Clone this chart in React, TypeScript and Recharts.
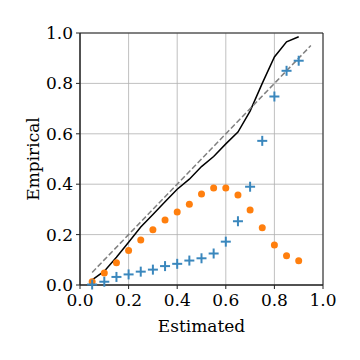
import {
  ComposedChart,
  Line,
  Scatter,
  XAxis,
  YAxis,
  CartesianGrid,
  ReferenceArea,
} from "recharts";

// estimated bin centres
const estimated = [
  0.05, 0.1, 0.15, 0.2, 0.25, 0.3, 0.35, 0.4, 0.45, 0.5, 0.55, 0.6, 0.65, 0.7,
  0.75, 0.8, 0.85, 0.9,
];

const blackLine = [
  0.02, 0.055, 0.11, 0.17, 0.23, 0.28, 0.33, 0.38, 0.42, 0.47, 0.51, 0.56,
  0.607, 0.69, 0.8, 0.905, 0.965, 0.985,
];

const orangeDots = [
  0.013, 0.048, 0.088, 0.137, 0.179, 0.219, 0.258, 0.29, 0.32, 0.361, 0.385,
  0.385, 0.357, 0.298, 0.227, 0.159, 0.116, 0.096,
];

const blueCrosses = [
  0.002, 0.013, 0.032, 0.042, 0.053, 0.061, 0.075, 0.084, 0.097, 0.106, 0.125,
  0.172, 0.253, 0.39, 0.572, 0.748, 0.85, 0.89,
];

const diagonal = [0.05, 0.95];
const ticks = [0, 0.2, 0.4, 0.6, 0.8, 1];

const FONT = "'DejaVu Serif', serif";

const toPoints = (ys: number[]) => ys.map((y, i) => ({ x: estimated[i], y }));

const blackData = toPoints(blackLine);
const orangeData = toPoints(orangeDots);
const blueData = toPoints(blueCrosses);
const diagData = diagonal.map((v) => ({ x: v, y: v }));

const Dot = (props: any) => (
  <circle cx={props.cx} cy={props.cy} r={3.5} fill="#ff7f0e" />
);

const Cross = (props: any) => {
  const { cx, cy } = props;
  return (
    <g stroke="#3a87bd" strokeWidth={2}>
      <line x1={cx - 5} y1={cy} x2={cx + 5} y2={cy} />
      <line x1={cx} y1={cy - 5} x2={cx} y2={cy + 5} />
    </g>
  );
};

const tickStyle = { fill: "#000", fontSize: 17, fontFamily: FONT };
const fmt = (v: number) => v.toFixed(1);

export default function App() {
  return (
    <div style={{ position: "absolute", left: 0, top: 0, background: "#fff" }}>
      <ComposedChart
        width={360}
        height={360}
        margin={{ top: 33, right: 37, bottom: 0, left: 0 }}
      >
        <CartesianGrid stroke="#b0b0b0" strokeWidth={0.8} />
        <XAxis
          dataKey="x"
          type="number"
          domain={[0, 1]}
          ticks={ticks}
          tickFormatter={fmt}
          height={75}
          tick={tickStyle}
          tickSize={4}
          tickMargin={5}
          axisLine={{ stroke: "#222" }}
          tickLine={{ stroke: "#222" }}
          label={{
            value: "Estimated",
            position: "insideBottom",
            offset: 28,
            fill: "#000",
            fontSize: 17,
            fontFamily: FONT,
          }}
        />
        <YAxis
          dataKey="y"
          type="number"
          domain={[0, 1]}
          ticks={ticks}
          tickFormatter={fmt}
          width={80}
          tick={tickStyle}
          tickSize={4}
          tickMargin={3}
          axisLine={{ stroke: "#222" }}
          tickLine={{ stroke: "#222" }}
          label={{
            content: (p: any) => {
              const vb = p.viewBox;
              const cx = vb.x + 33;
              const cy = vb.y + vb.height / 2;
              return (
                <text
                  x={cx}
                  y={cy}
                  transform={`rotate(-90 ${cx} ${cy})`}
                  textAnchor="middle"
                  dominantBaseline="central"
                  fontSize={17}
                  fontFamily={FONT}
                  fill="#000"
                >
                  Empirical
                </text>
              );
            },
          }}
        />
        <ReferenceArea
          x1={0}
          x2={1}
          y1={0}
          y2={1}
          fill="none"
          stroke="#222"
          ifOverflow="visible"
        />
        <Line
          data={blackData}
          dataKey="y"
          stroke="#000"
          strokeWidth={1.5}
          dot={false}
          isAnimationActive={false}
        />
        <Line
          data={diagData}
          dataKey="y"
          stroke="#808080"
          strokeWidth={1.5}
          strokeDasharray="5.5 2.5"
          dot={false}
          isAnimationActive={false}
        />
        <Scatter
          data={orangeData}
          dataKey="y"
          shape={<Dot />}
          isAnimationActive={false}
        />
        <Scatter
          data={blueData}
          dataKey="y"
          shape={<Cross />}
          isAnimationActive={false}
        />
      </ComposedChart>
    </div>
  );
}
